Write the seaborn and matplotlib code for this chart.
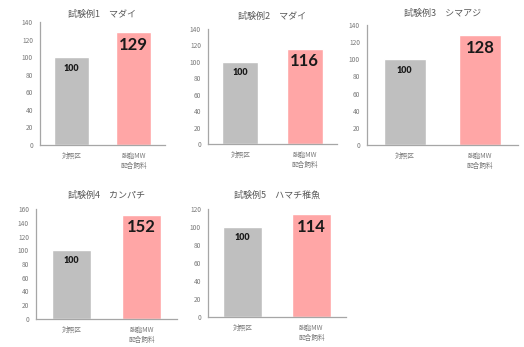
import matplotlib
matplotlib.use("Agg")
import matplotlib.pyplot as plt
import seaborn as sns
import pandas as pd

sns.set_theme(style="white")
plt.rcParams['font.family'] = ['Noto Sans CJK JP', 'DejaVu Sans']

categories = ["対照区", "脱脂MW\n配合飼料"]
titles = ["試験例1　マダイ", "試験例2　マダイ", "試験例3　シマアジ",
          "試験例4　カンパチ", "試験例5　ハマチ稚魚"]
values = [[100, 129], [100, 116], [100, 128], [100, 152], [100, 114]]
ymaxes = [140, 140, 140, 160, 120]
colors = ["#BFBFBF", "#FFA6A6"]

W, H = 524, 347
# pixel boxes: (left, right, y_top_tick, y_zero)
boxes = [(40, 165, 22, 145), (208, 337, 29, 144), (367, 518, 25, 145),
         (36, 177, 209, 319), (208, 346, 209, 317)]
title_y = [14, 16, 13, 195, 195]

fig = plt.figure(figsize=(W / 100, H / 100), dpi=100)
fig.patch.set_facecolor("white")

for i, (l, r, t, b) in enumerate(boxes):
    ax = fig.add_axes([l / W, 1 - b / H, (r - l) / W, (b - t) / H])
    df = pd.DataFrame({"cat": categories, "val": values[i]})
    sns.barplot(data=df, x="cat", y="val", hue="cat", palette=colors,
                width=0.56, legend=False, ax=ax, saturation=1)
    ax.set_xlim(-0.5, 1.5)
    ax.set_ylim(0, ymaxes[i])
    ax.set_yticks(range(0, ymaxes[i] + 1, 20))
    ax.set_xlabel("")
    ax.set_ylabel("")
    for s in ["top", "right"]:
        ax.spines[s].set_visible(False)
    for s in ["left", "bottom"]:
        ax.spines[s].set_color("#A6A6A6")
        ax.spines[s].set_linewidth(0.9)
    ax.tick_params(axis="both", labelsize=4.8, colors="#7A7A7A", length=0)
    ax.tick_params(axis="y", pad=5)
    ax.tick_params(axis="x", pad=5)
    for lab in ax.get_xticklabels():
        lab.set_linespacing(1.3)
    ax.patch.set_alpha(0)
    for j, v in enumerate(values[i]):
        if j == 0:
            ax.text(j, v - ymaxes[i] * 0.055, str(v), ha="center", va="top",
                    fontsize=6.5, fontweight="heavy", color="#1a1a1a",
                    family=["Lato", "DejaVu Sans"])
        else:
            ax.text(j, v - ymaxes[i] * 0.04, str(v), ha="center", va="top",
                    fontsize=12, fontweight="bold", color="#1a1a1a",
                    family=["Lato", "DejaVu Sans"])
    fig.text(((l + r) / 2) / W, 1 - title_y[i] / H, titles[i], ha="center",
             va="center", fontsize=6.5, color="#595959")

fig.savefig("out.png", dpi=100, facecolor="white")
